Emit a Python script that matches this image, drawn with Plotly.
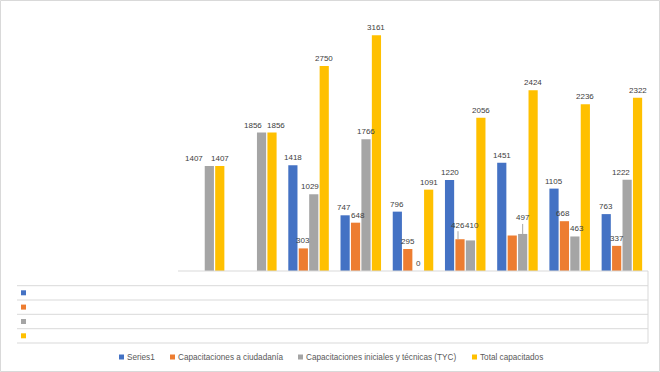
import plotly.graph_objects as go

# values (categories are blank in the source)
categories = list(range(9))
series1 = [None, None, 1418, 747, 796, 1220, 1451, 1105, 763]
ciudadania = [None, None, 303, 648, 295, 426, 476, 668, 337]
iniciales = [1407, 1856, 1029, 1766, 0, 410, 497, 463, 1222]
total = [1407, 1856, 2750, 3161, 1091, 2056, 2424, 2236, 2322]

names = [
    "Series1",
    "Capacitaciones a ciudadanía",
    "Capacitaciones iniciales y técnicas (TYC)",
    "Total capacitados",
]
series = [series1, ciudadania, iniciales, total]
colors = ["#4472C4", "#ED7D31", "#A5A5A5", "#FFC000"]

# label tweaks mimicking Excel's label placement: (series, category) -> style
label_hidden = {(1, 6)}
label_dx = {(2, 0): -15, (2, 1): -9, (3, 1): 4, (2, 2): -4, (2, 8): -6,
            (1, 5): -2, (2, 5): 2, (0, 3): -1, (1, 3): 2, (1, 7): -1, (2, 7): 2}
label_dy = {(2, 5): 7}
label_leader = {(1, 5): -14, (2, 6): -16}

W, H = 660, 372
L, R, T, B = 178, 12, 10, 101
PW, PH = W - L - R, H - T - B
BARGAP, GROUPGAP = 0.2, 0.12
slot = (1 - BARGAP) / len(series)
FONT = "Liberation Sans, Arial"
TXT = "#404040"
LINE = "#D9D9D9"


def px(x):
    return (x - L) / PW


def py(y):
    return (H - B - y) / PH


fig = go.Figure()
for name, vals, color in zip(names, series, colors):
    fig.add_trace(go.Bar(x=categories, y=vals, name=name, marker_color=color,
                         marker_line_width=0, showlegend=False))

annotations = []
for i, vals in enumerate(series):
    for j, v in enumerate(vals):
        if v is None or (i, j) in label_hidden:
            continue
        ann = dict(x=categories[j] + (i - 1.5) * slot, y=v, xref="x", yref="y",
                   text=str(v), font=dict(family=FONT, size=8, color=TXT),
                   xshift=label_dx.get((i, j), 0))
        if (i, j) in label_leader:
            ann.update(showarrow=True, arrowhead=0, arrowwidth=1, arrowcolor="#A6A6A6",
                       ax=0, ay=label_leader[(i, j)], standoff=0)
        else:
            ann.update(showarrow=False, yanchor="bottom", yshift=1 + label_dy.get((i, j), 0))
        annotations.append(ann)

# legend row at the bottom
legend_x = [119, 170, 298, 472]
for name, color, lx in zip(names, colors, legend_x):
    annotations.append(dict(x=px(lx + 6), y=py(357), xref="paper", yref="paper",
                            text=name, showarrow=False, xanchor="left", yanchor="middle",
                            font=dict(family=FONT, size=8.2, color="#595959")))

shapes = []
# outer chart border
shapes.append(dict(type="rect", xref="paper", yref="paper", x0=px(0.5), x1=px(W - 0.5),
                   y0=py(0.5), y1=py(H - 0.5), line=dict(color=LINE, width=1)))
# data table grid
shapes.append(dict(type="line", xref="paper", yref="paper", x0=0, x1=px(648),
                   y0=py(271), y1=py(271), line=dict(color=LINE, width=1)))
for yy in [285.7, 300, 314.3, 328.7, 343]:
    shapes.append(dict(type="line", xref="paper", yref="paper", x0=px(17), x1=px(648),
                       y0=py(yy), y1=py(yy), line=dict(color=LINE, width=1)))
shapes.append(dict(type="line", xref="paper", yref="paper", x0=px(648), x1=px(648),
                   y0=py(271), y1=py(343), line=dict(color=LINE, width=1)))
# legend keys inside the table and below it
for color, yy in zip(colors, [292.8, 307.1, 321.5, 335.8]):
    shapes.append(dict(type="rect", xref="paper", yref="paper", x0=px(21), x1=px(26),
                       y0=py(yy - 2.5), y1=py(yy + 2.5), fillcolor=color, line_width=0))
for color, lx in zip(colors, legend_x):
    shapes.append(dict(type="rect", xref="paper", yref="paper", x0=px(lx), x1=px(lx + 5),
                       y0=py(354.5), y1=py(359.5), fillcolor=color, line_width=0))

fig.update_layout(
    width=W, height=H,
    margin=dict(l=L, r=R, t=T, b=B),
    paper_bgcolor="white", plot_bgcolor="white",
    barmode="group", bargap=BARGAP, bargroupgap=GROUPGAP,
    annotations=annotations, shapes=shapes,
    showlegend=False,
)
fig.update_xaxes(range=[-0.5, 8.5], showticklabels=False, showgrid=False,
                 zeroline=False, showline=False)
fig.update_yaxes(range=[0, 3500], showticklabels=False, showgrid=False,
                 zeroline=False, showline=False)

# the page body has a default 8px margin; drop it so the chart fills the window
fig.write_html("out.html", config={"displayModeBar": False},
               post_script="document.body.style.margin='0';")
